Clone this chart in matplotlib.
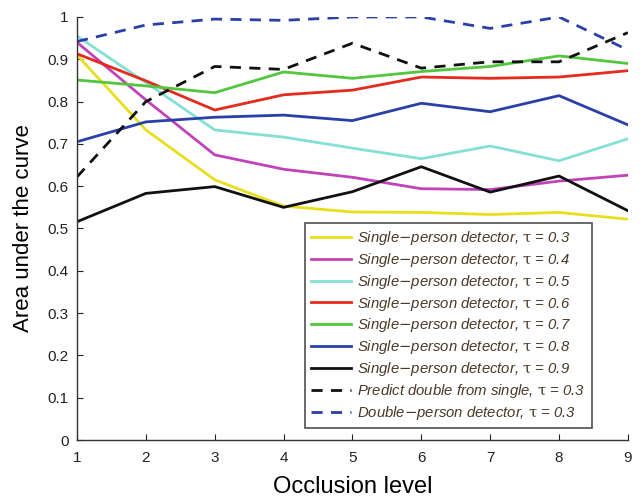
import matplotlib
matplotlib.use("Agg")
import matplotlib.pyplot as plt

levels = [1, 2, 3, 4, 5, 6, 7, 8, 9]
single_03 = [0.910, 0.733, 0.615, 0.553, 0.539, 0.538, 0.533, 0.538, 0.522]
single_04 = [0.940, 0.804, 0.674, 0.640, 0.621, 0.594, 0.592, 0.612, 0.626]
single_05 = [0.955, 0.845, 0.733, 0.716, 0.690, 0.665, 0.695, 0.660, 0.712]
single_06 = [0.913, 0.849, 0.780, 0.816, 0.827, 0.858, 0.855, 0.858, 0.873]
single_07 = [0.851, 0.837, 0.821, 0.870, 0.855, 0.871, 0.883, 0.908, 0.890]
single_08 = [0.705, 0.752, 0.763, 0.768, 0.755, 0.796, 0.776, 0.814, 0.745]
single_09 = [0.516, 0.583, 0.599, 0.550, 0.587, 0.646, 0.586, 0.624, 0.542]
pred_double = [0.622, 0.800, 0.883, 0.876, 0.938, 0.879, 0.894, 0.894, 0.963]
double_03 = [0.942, 0.981, 0.995, 0.992, 1.000, 1.000, 0.973, 1.000, 0.922]

labels = [
    r"Single$-$person detector, $\mathrm{\tau}$ = 0.3",
    r"Single$-$person detector, $\mathrm{\tau}$ = 0.4",
    r"Single$-$person detector, $\mathrm{\tau}$ = 0.5",
    r"Single$-$person detector, $\mathrm{\tau}$ = 0.6",
    r"Single$-$person detector, $\mathrm{\tau}$ = 0.7",
    r"Single$-$person detector, $\mathrm{\tau}$ = 0.8",
    r"Single$-$person detector, $\mathrm{\tau}$ = 0.9",
    r"Predict double from single, $\mathrm{\tau}$ = 0.3",
    r"Double$-$person detector, $\mathrm{\tau}$ = 0.3",
]

plt.rcParams['font.family'] = ['Liberation Sans', 'DejaVu Sans']
plt.rcParams['mathtext.fontset'] = 'custom'
plt.rcParams['mathtext.rm'] = 'DejaVu Serif'
plt.rcParams['mathtext.it'] = 'Liberation Sans:italic'

fig = plt.figure(figsize=(6.44, 4.99), dpi=100)
ax = fig.add_axes([0.1196, 0.1182, 0.8554, 0.8478])

series = [single_03, single_04, single_05, single_06, single_07, single_08, single_09, pred_double, double_03]
colors = ['#e8df1c', '#c043b8', '#84e0d6', '#e62a1e', '#52c63c', '#2a3fa8', '#111111', '#111111', '#2a3fa8']
styles = ['-'] * 7 + ['--', '--']
for s, c, ls, lab in zip(series, colors, styles, labels):
    kw = dict(dashes=(4, 3)) if ls == '--' else {}
    ax.plot(levels, s, color=c, linestyle=ls, lw=2, label=lab, **kw)

ax.set_xlim(1, 9)
ax.set_ylim(0, 1)
ax.set_xticks(levels)
ax.set_yticks([0, 0.1, 0.2, 0.3, 0.4, 0.5, 0.6, 0.7, 0.8, 0.9, 1])
ax.set_yticklabels(['0', '0.1', '0.2', '0.3', '0.4', '0.5', '0.6', '0.7', '0.8', '0.9', '1'])
ax.tick_params(direction='in', length=4, labelsize=11, colors='#222222')
ax.tick_params(axis='x', pad=8)
ax.tick_params(axis='y', pad=6)
for sp in ['top', 'right']:
    ax.spines[sp].set_visible(False)
for sp in ['left', 'bottom']:
    ax.spines[sp].set_color('#333333')
    ax.spines[sp].set_linewidth(1.0)

ax.set_xlabel('Occlusion level', fontsize=17, labelpad=8)
ax.set_ylabel('Area under the curve', fontsize=16, labelpad=10)

leg = ax.legend(loc='lower right', bbox_to_anchor=(0.934, 0.028), frameon=True, fancybox=False,
                prop={'size': 10.7, 'style': 'italic'}, handlelength=2.7, handletextpad=0.4,
                labelspacing=0.26, borderpad=0.42, borderaxespad=0.0)
leg.get_frame().set_edgecolor('#222222')
leg.get_frame().set_linewidth(1.2)
for t in leg.get_texts():
    t.set_color('#4a3826')

fig.savefig('out.png', dpi=100)
